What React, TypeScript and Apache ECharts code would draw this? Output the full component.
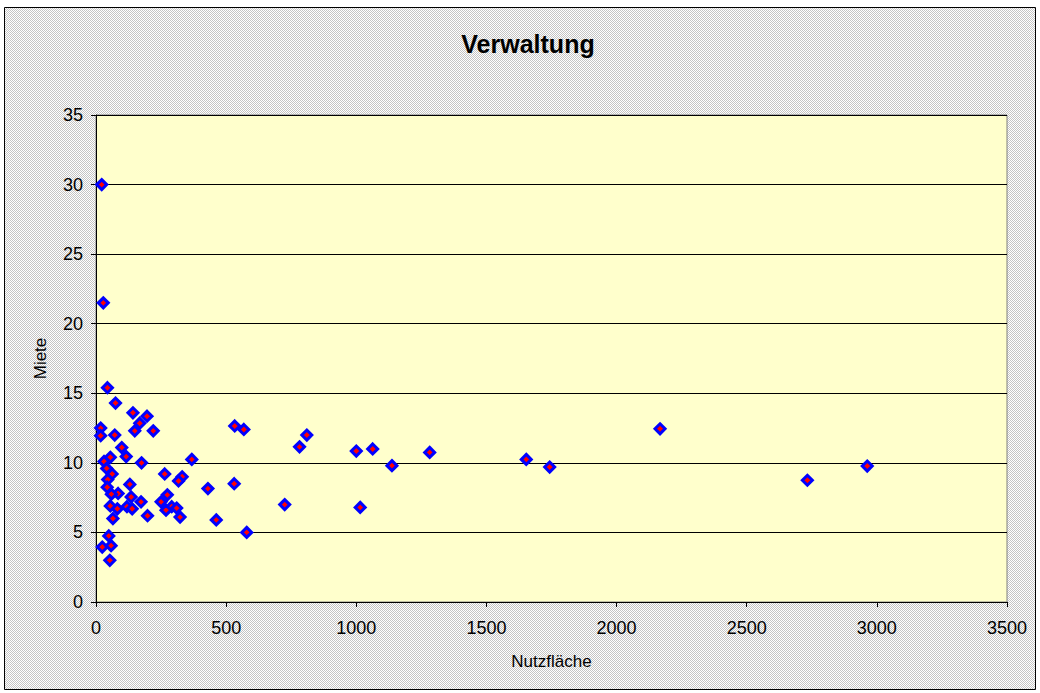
import React, { useEffect, useRef } from "react";
import * as echarts from "echarts";

const chartTitle = "Verwaltung";
const xAxisName = "Nutzfläche";
const yAxisName = "Miete";

// [Nutzfläche, Miete]
const points: [number, number][] = [
  [22, 30.0], [28, 21.5], [44, 15.4], [75, 14.3], [142, 13.6], [196, 13.35],
  [168, 12.85], [18, 12.5], [18, 11.95], [72, 12.0], [149, 12.3], [220, 12.3],
  [533, 12.65], [568, 12.4], [99, 11.1], [116, 10.45], [55, 10.4], [31, 10.1],
  [175, 10.0], [368, 10.25], [41, 9.6], [62, 9.2], [45, 8.8], [264, 9.2],
  [331, 9.0], [317, 8.7], [130, 8.45], [43, 8.25], [430, 8.15], [531, 8.5],
  [85, 7.8], [59, 7.75], [135, 7.55], [274, 7.7], [173, 7.2], [250, 7.2],
  [55, 6.9], [82, 6.7], [119, 6.85], [139, 6.7], [291, 6.85], [269, 6.6],
  [310, 6.75], [65, 6.0], [198, 6.2], [323, 6.1], [462, 5.9], [579, 5.0],
  [49, 4.75], [24, 3.95], [58, 4.05], [53, 3.0], [782, 11.15], [810, 12.0],
  [1000, 10.85], [1063, 11.0], [1137, 9.8], [1282, 10.75], [1653, 10.25],
  [1743, 9.7], [2167, 12.45], [2733, 8.75], [2963, 9.77], [725, 7.0], [1015, 6.8],
];

const xMin = 0, xMax = 3500, xStep = 500;
const yMin = 0, yMax = 35, yStep = 5;

const FONT = "Arial, 'Liberation Sans', sans-serif";

function makePattern(): HTMLCanvasElement {
  const c = document.createElement("canvas");
  c.width = 2;
  c.height = 2;
  const ctx = c.getContext("2d")!;
  ctx.fillStyle = "#ffffff";
  ctx.fillRect(0, 0, 2, 2);
  ctx.fillStyle = "#c4c4c4";
  ctx.fillRect(0, 0, 1, 1);
  ctx.fillRect(1, 1, 1, 1);
  return c;
}

export default function App() {
  const ref = useRef<HTMLDivElement>(null);
  useEffect(() => {
    if (!ref.current) return;
    const chart = echarts.init(ref.current, null, { renderer: "svg" });
    const pattern = makePattern();
    chart.setOption({
      animation: false,
      backgroundColor: "#ffffff",
      graphic: [
        {
          type: "rect",
          z: -10,
          silent: true,
          shape: { x: 4.5, y: 7.5, width: 1031, height: 682 },
          style: { fill: { image: pattern, repeat: "repeat" } as any, stroke: "#000000", lineWidth: 1 },
        },
        {
          type: "text",
          x: 528,
          y: 44,
          style: {
            text: chartTitle,
            font: `bold 25px ${FONT}`,
            fill: "#000000",
            align: "center",
            verticalAlign: "middle",
          },
        },
      ],
      grid: {
        left: 96,
        top: 115,
        right: 33,
        bottom: 91,
        show: true,
        backgroundColor: "#ffffcc",
        borderColor: "#808080",
        borderWidth: 1,
      },
      xAxis: {
        type: "value",
        min: xMin,
        max: xMax,
        interval: xStep,
        name: xAxisName,
        nameLocation: "middle",
        nameGap: 51,
        nameTextStyle: { fontFamily: FONT, fontSize: 17, color: "#000" },
        axisLine: { show: true, lineStyle: { color: "#000", width: 1 } },
        axisTick: { show: true, length: 5, lineStyle: { color: "#000" } },
        axisLabel: {
          fontFamily: FONT, fontSize: 18, color: "#000", margin: 17,
          formatter: (v: number) => String(v),
        },
        splitLine: { show: false },
      },
      yAxis: {
        type: "value",
        min: yMin,
        max: yMax,
        interval: yStep,
        name: yAxisName,
        nameLocation: "middle",
        nameGap: 47,
        nameRotate: 90,
        nameTextStyle: { fontFamily: FONT, fontSize: 17, color: "#000" },
        axisLine: { show: true, lineStyle: { color: "#000", width: 1 } },
        axisTick: { show: true, length: 5, lineStyle: { color: "#000" } },
        axisLabel: {
          fontFamily: FONT, fontSize: 18, color: "#000", margin: 13,
          formatter: (v: number) => String(v),
        },
        splitLine: { show: true, lineStyle: { color: "#000", width: 1 } },
      },
      series: [
        {
          type: "scatter",
          data: points,
          symbol: "diamond",
          symbolSize: 10,
          itemStyle: { color: "#ff0000", borderColor: "#0000ff", borderWidth: 3, opacity: 1 },
        },
      ],
    });
    return () => chart.dispose();
  }, []);
  return (
    <div
      ref={ref}
      style={{ position: "absolute", left: 0, top: 0, width: 1040, height: 693 }}
    />
  );
}
